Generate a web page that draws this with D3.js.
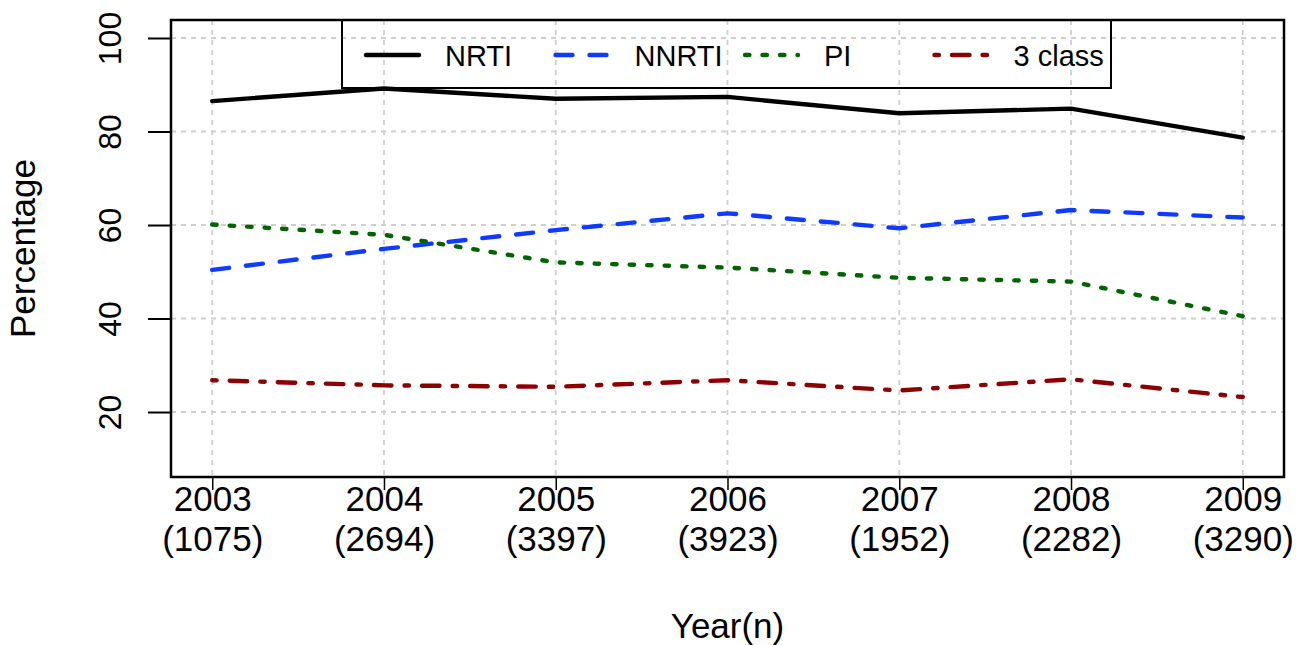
<!DOCTYPE html>
<html>
<head>
<meta charset="utf-8">
<script src="https://cdn.jsdelivr.net/npm/d3@7"></script>
<style>
  body { margin: 0; background: #fff; }
  svg { display: block; font-family: "Liberation Sans", Arial, sans-serif; }
</style>
</head>
<body>
<script>
// data
var years = [2003, 2004, 2005, 2006, 2007, 2008, 2009];
var counts = [1075, 2694, 3397, 3923, 1952, 2282, 3290];
var nrti  = [86.5, 89.2, 87.0, 87.4, 83.9, 84.9, 78.7];
var nnrti = [50.4, 54.9, 58.9, 62.5, 59.3, 63.2, 61.6];
var pi    = [60.1, 57.9, 52.0, 50.9, 48.7, 47.9, 40.5];
var three = [26.8, 25.7, 25.4, 26.8, 24.6, 27.0, 23.2];
var yTicks = [20, 40, 60, 80, 100];

var seriesNames = ['NRTI', 'NNRTI', 'PI', '3 class'];
var seriesValues = [nrti, nnrti, pi, three];
var seriesColors = ['#000000', '#0d3bff', '#006400', '#8b0000'];
var seriesDash = ['none', '17,17', '4.4,13.1', '4.4,13.1,17.5,13.1'];

var width = 1296, height = 645;
var lw = 4.4;

var svg = d3.select('body').append('svg')
  .attr('width', width)
  .attr('height', height);

// plot region (R style, 4% padding on x)
var x = d3.scaleLinear().domain([2002.76, 2009.24]).range([171, 1284]);
var y = d3.scaleLinear().domain([6.1, 103.85]).range([477, 20]);

// grid
var grid = svg.append('g')
  .attr('stroke', '#cfcfcf')
  .attr('stroke-width', 1.8)
  .attr('stroke-dasharray', '5,5');

grid.selectAll('line.h')
  .data(yTicks)
  .enter().append('line')
  .attr('x1', x.range()[0]).attr('x2', x.range()[1])
  .attr('y1', function(d) { return y(d); })
  .attr('y2', function(d) { return y(d); });

grid.selectAll('line.v')
  .data(years)
  .enter().append('line')
  .attr('y1', y.range()[1]).attr('y2', y.range()[0])
  .attr('x1', function(d) { return x(d); })
  .attr('x2', function(d) { return x(d); });

// series lines
var line = d3.line()
  .x(function(d, i) { return x(years[i]); })
  .y(function(d) { return y(d); });

svg.selectAll('path.series')
  .data(seriesValues)
  .enter().append('path')
  .attr('class', 'series')
  .attr('d', line)
  .attr('fill', 'none')
  .attr('stroke', function(d, i) { return seriesColors[i]; })
  .attr('stroke-width', lw)
  .attr('stroke-linecap', 'round')
  .attr('stroke-linejoin', 'round')
  .attr('stroke-dasharray', function(d, i) { return seriesDash[i]; });

// box
svg.append('rect')
  .attr('x', x.range()[0]).attr('y', y.range()[1])
  .attr('width', x.range()[1] - x.range()[0])
  .attr('height', y.range()[0] - y.range()[1])
  .attr('fill', 'none')
  .attr('stroke', '#000')
  .attr('stroke-width', 2.5);

// y axis
var yAxis = svg.append('g')
  .attr('transform', 'translate(' + x.range()[0] + ',0)')
  .call(d3.axisLeft(y).tickValues(yTicks).tickSize(23).tickSizeOuter(0));

yAxis.select('.domain').remove();
yAxis.selectAll('.tick line').attr('stroke', '#000').attr('stroke-width', 2);
yAxis.selectAll('.tick text')
  .attr('x', null).attr('dy', null)
  .attr('transform', 'translate(-50,0) rotate(-90)')
  .attr('text-anchor', 'middle')
  .attr('fill', '#000')
  .style('font-size', '32px')
  .style('font-family', '"Liberation Sans", Arial, sans-serif');

// x axis
var xAxis = svg.append('g')
  .attr('transform', 'translate(0,' + y.range()[0] + ')')
  .call(d3.axisBottom(x).tickValues(years).tickSize(13).tickSizeOuter(0).tickFormat(''));

xAxis.select('.domain').remove();
xAxis.selectAll('.tick line').attr('stroke', '#000').attr('stroke-width', 1.5);
xAxis.selectAll('.tick text').remove();

var xLab = xAxis.selectAll('.tick').append('text')
  .attr('text-anchor', 'middle')
  .attr('fill', '#000')
  .style('font-size', '35px');
xLab.append('tspan')
  .attr('x', 0).attr('y', 34)
  .text(function(d) { return d; });
xLab.append('tspan')
  .attr('x', 0).attr('y', 74)
  .text(function(d, i) { return '(' + counts[years.indexOf(d)] + ')'; });

// axis titles
svg.append('text')
  .attr('x', (x.range()[0] + x.range()[1]) / 2)
  .attr('y', 638)
  .attr('text-anchor', 'middle')
  .style('font-size', '35px')
  .text('Year(n)');

svg.append('text')
  .attr('transform', 'translate(35,' + (y.range()[0] + y.range()[1]) / 2 + ') rotate(-90)')
  .attr('text-anchor', 'middle')
  .style('font-size', '35px')
  .text('Percentage');

// legend
var legend = svg.append('g');
legend.append('rect')
  .attr('x', 342).attr('y', 20)
  .attr('width', 769).attr('height', 68)
  .attr('fill', 'none')
  .attr('stroke', '#000')
  .attr('stroke-width', 2);

var item = legend.selectAll('g.item')
  .data(seriesNames)
  .enter().append('g')
  .attr('transform', function(d, i) { return 'translate(' + (366 + i * 189.5) + ',55)'; });

item.append('line')
  .attr('x1', 0).attr('x2', 53)
  .attr('stroke', function(d, i) { return seriesColors[i]; })
  .attr('stroke-width', lw)
  .attr('stroke-linecap', 'round')
  .attr('stroke-dasharray', function(d, i) { return seriesDash[i]; });

item.append('text')
  .attr('x', 79).attr('y', 11)
  .style('font-size', '29px')
  .text(function(d) { return d; });
</script>
</body>
</html>
